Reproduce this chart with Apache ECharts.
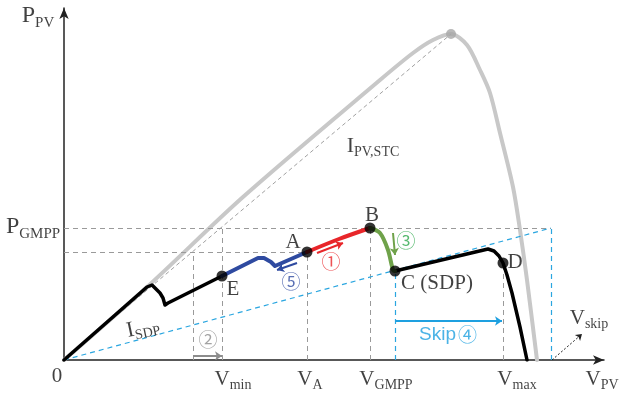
<!DOCTYPE html>
<html>
<head>
<meta charset="utf-8">
<script src="https://cdn.jsdelivr.net/npm/echarts@6/dist/echarts.min.js"></script>
<style>
html, body { margin: 0; padding: 0; background: #fff; }
#chart { width: 621px; height: 396px; }
</style>
</head>
<body>
<div id="chart"></div>
<script>
// STC 条件下的 P-V 曲线（灰色）
const stcCurve = [[0, 0], [83, 73], [179, 163], [316, 280], [349, 307], [369, 320], [387, 326], [403, 315], [416, 290], [426, 267], [436, 227], [449, 173], [456, 130], [463, 80], [473, 0]]
const stcPeak = [[387, 326]]
const stcLine = [[0, 0], [387, 326]]

// 遮挡条件下的曲线分段
const shadedLeft = [[0, 0], [83, 73], [88, 75], [96, 67], [99, 62], [101, 55], [104, 57], [158, 84]]
const blueTrack = [[158, 84], [194, 102], [200, 102], [207, 98], [211, 94], [243, 108]]
const redTrack = [[243, 108], [275, 121], [306, 132]]
const greenTrack = [[306, 132], [316, 127], [324, 110], [329, 90], [331, 89]]
const shadedRight = [[331, 89], [424, 111], [430, 109], [435, 104], [439, 97], [443, 85], [448, 67], [456, 33], [463, 0]]

// 关键点 A B C D E
const keyPoints = [[243, 108], [306, 132], [331, 89], [439, 97], [158, 84]]

// 辅助虚线
const grayGuides = [
  [[0, 132], [487, 132]],
  [[0, 108], [243, 108]],
  [[129, 0], [129, 108]],
  [[158, 0], [158, 132]],
  [[243, 0], [243, 108]],
  [[306, 0], [306, 132]],
  [[439, 0], [439, 97]]
]
const cyanGuides = [
  [[0, 0], [487, 132]],
  [[331, 0], [331, 89]],
  [[487, 0], [487, 132]]
]

// 箭头（② Skip ① ③ ⑤）
const arrowSegs = [
  [[129, 4], [158, 4]],
  [[331, 39], [438, 39]],
  [[253, 107], [279, 117]],
  [[329, 127], [331, 105]],
  [[233, 97], [213, 90]]
]
const arrowColors = ['#8c8c8c', '#1ea0e0', '#e8262a', '#6fa24a', '#2e4aa0']
const skipPointer = [[[488, 0], [518, 26]]]

// 文字标注
const labelTexts = [
  '{mp|P}{sp|PV}', '{mp|P}{sp|GMPP}', '{mi|I}{s|PV,STC}', '{mi|I}{s|SDP}',
  '{m|A}', '{m|B}', '{m|C (SDP)}', '{m|D}', '{m|E}',
  '{cr|①}', '{cgr|②}', '{cg|③}', '{ck|Skip}{cc|④}', '{cb|⑤}',
  '{m|V}{s|skip}', '{m|V}{s|PV}', '{m|V}{s|max}', '{m|V}{s|min}', '{m|V}{s|A}', '{m|V}{s|GMPP}', '{m|0}'
]
const labelAnchors = [
  [-26, 344], [-31, 133], [309, 214], [79, 32],
  [229, 118], [308, 145], [373, 77], [451, 98], [169, 71],
  [267, 98], [144, 20], [342, 119], [384, 25], [227, 78],
  [525, 42], [538, -19], [453, -19], [169, -19], [246, -19], [322, -19], [-7, -16]
]

const serif = 'Liberation Serif'
const cjk = 'Noto Sans CJK SC'

const chart = echarts.init(document.getElementById('chart'))

const guideSeries = (data, color, width, type) => ({
  type: 'lines',
  coordinateSystem: 'cartesian2d',
  silent: true,
  z: 2,
  lineStyle: { color: color, width: width, type: type, opacity: 1 },
  data: data.map((c) => ({ coords: c }))
})

const trackSeries = (data, color, width, z, smooth) => ({
  type: 'line',
  data: data,
  showSymbol: false,
  smooth: smooth,
  z: z,
  lineStyle: { color: color, width: width, cap: 'round', join: 'round' }
})

const option = {
  animation: false,
  grid: { left: 64, right: 17, top: 8, bottom: 36 },
  xAxis: {
    type: 'value',
    min: 0,
    max: 540,
    axisLine: { show: true, symbol: ['none', 'arrow'], symbolSize: [7, 11], lineStyle: { color: '#222', width: 1.5 } },
    axisTick: { show: false },
    axisLabel: { show: false },
    splitLine: { show: false }
  },
  yAxis: {
    type: 'value',
    min: 0,
    max: 352,
    axisLine: { show: true, symbol: ['none', 'arrow'], symbolSize: [7, 11], lineStyle: { color: '#222', width: 1.5 } },
    axisTick: { show: false },
    axisLabel: { show: false },
    splitLine: { show: false }
  },
  series: [
    trackSeries(stcCurve, '#c8c8c8', 4, 1, 0.3),
    guideSeries([stcLine], '#a0a0a0', 1, [4, 3]),
    guideSeries(grayGuides, '#9a9a9a', 1, [5, 4]),
    guideSeries(cyanGuides, '#2aa6e0', 1.2, [5, 4]),
    {
      type: 'lines',
      coordinateSystem: 'cartesian2d',
      silent: true,
      z: 5,
      symbol: ['none', 'arrow'],
      symbolSize: 7,
      data: arrowSegs.map((c, i) => ({ coords: c, lineStyle: { color: arrowColors[i], width: 2, opacity: 1 } }))
    },
    {
      type: 'lines',
      coordinateSystem: 'cartesian2d',
      silent: true,
      z: 5,
      symbol: ['none', 'arrow'],
      symbolSize: 6,
      lineStyle: { color: '#222', width: 1, type: [2, 2], opacity: 1 },
      data: skipPointer.map((c) => ({ coords: c }))
    },
    trackSeries(shadedLeft, '#000', 3.5, 3, false),
    trackSeries(shadedRight, '#000', 3.5, 3, false),
    trackSeries(blueTrack, '#2e4aa0', 4, 3, false),
    trackSeries(redTrack, '#e8262a', 4, 3, 0.3),
    trackSeries(greenTrack, '#6fa24a', 4, 3, 0.3),
    {
      type: 'scatter',
      data: stcPeak,
      symbolSize: 10,
      z: 4,
      itemStyle: { color: '#a8a8a8' }
    },
    {
      type: 'scatter',
      data: keyPoints,
      symbolSize: 11,
      z: 6,
      itemStyle: { color: '#000' }
    },
    {
      type: 'scatter',
      symbolSize: 0,
      clip: false,
      silent: true,
      z: 10,
      data: labelAnchors.map((p, i) => ({
        value: [p[0], p[1], labelTexts[i]],
        label: i === 3 ? { rotate: 12 } : {}
      })),
      label: {
        show: true,
        position: 'inside',
        formatter: (p) => p.data.value[2],
        rich: {
          m: { fontFamily: serif, fontSize: 21, color: '#111' },
          s: { fontFamily: serif, fontSize: 14, color: '#111', padding: [12, 0, 0, 0] },
          mp: { fontFamily: serif, fontSize: 24, color: '#111' },
          sp: { fontFamily: serif, fontSize: 15, color: '#111', padding: [14, 0, 0, 0] },
          mi: { fontFamily: serif, fontSize: 22, color: '#111' },
          cr: { fontFamily: cjk, fontSize: 19, color: '#e8262a' },
          cgr: { fontFamily: cjk, fontSize: 19, color: '#8c8c8c' },
          cg: { fontFamily: cjk, fontSize: 19, color: '#2ca84a' },
          cb: { fontFamily: cjk, fontSize: 19, color: '#2e4aa0' },
          cc: { fontFamily: cjk, fontSize: 19, color: '#1ea0e0' },
          ck: { fontFamily: 'Liberation Sans', fontSize: 19, color: '#1ea0e0', padding: [0, 2, 0, 0] }
        }
      }
    }
  ]
}

chart.setOption(option)
window.addEventListener('resize', function () {
  chart.resize()
})
</script>
</body>
</html>
